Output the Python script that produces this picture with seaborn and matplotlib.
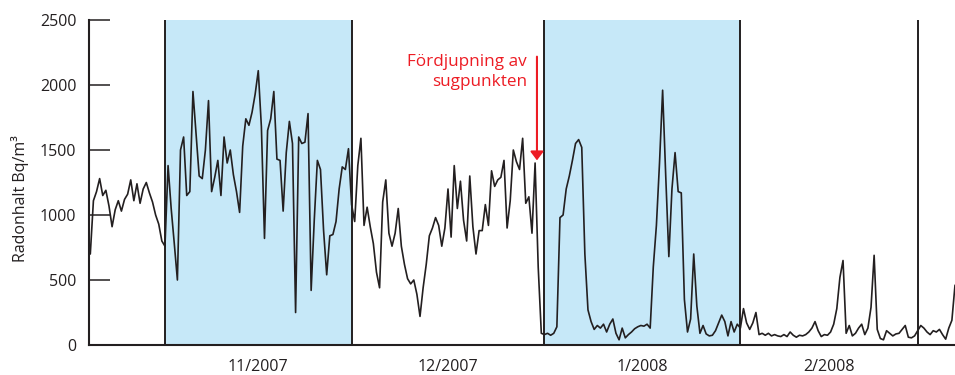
import numpy as np
import pandas as pd
import matplotlib
matplotlib.use("Agg")
import matplotlib.pyplot as plt
import seaborn as sns

# Radon readings (Bq/m3), one value every half day, grouped by month.
# Day 0 = 1 November 2007.
oct_vals = [700, 1110, 1180, 1280, 1150, 1190, 1070, 910, 1040, 1110, 1030, 1120,
            1160, 1270, 1110, 1240, 1090, 1200, 1250, 1170, 1100, 1000, 930, 800]
nov_vals = [760, 1380, 1050, 780, 500, 1500, 1600, 1150, 1180, 1950, 1630, 1300,
            1280, 1500, 1880, 1180, 1290, 1420, 1150, 1600, 1400, 1500, 1310, 1180,
            1020, 1530, 1740, 1690, 1790, 1930, 2110, 1680, 820, 1650, 1740, 1950,
            1430, 1420, 1030, 1480, 1720, 1550, 250, 1600, 1550, 1560, 1780, 420,
            960, 1420, 1350, 880, 540, 840, 850, 950, 1200, 1370, 1350, 1510]
dec_vals = [1080, 950, 1380, 1590, 920, 1060, 910, 780, 560, 440, 1100, 1270,
            860, 760, 860, 1050, 760, 620, 510, 470, 500, 390, 220, 440,
            620, 840, 900, 980, 920, 760, 900, 1200, 830, 1380, 1050, 1260,
            960, 800, 1300, 910, 700, 880, 880, 1080, 920, 1340, 1220, 1270,
            1290, 1420, 900, 1110, 1500, 1410, 1350, 1590, 1090, 1140, 860, 1400,
            600, 90]
jan_vals = [80, 90, 75, 90, 140, 980, 1000, 1200, 1300, 1420, 1550, 1580,
            1520, 700, 270, 180, 120, 150, 130, 160, 100, 160, 200, 90,
            40, 130, 55, 80, 100, 125, 140, 150, 145, 160, 130, 600,
            920, 1400, 1960, 1300, 680, 1200, 1480, 1180, 1170, 350, 100, 200,
            700, 300, 90, 150, 85, 70, 75, 110, 170, 230, 180, 70,
            180, 100, 160, 130]
feb_vals = [280, 170, 120, 170, 250, 80, 90, 75, 90, 70, 80, 70,
            65, 80, 65, 100, 75, 60, 75, 70, 80, 100, 130, 180,
            110, 65, 80, 75, 100, 160, 280, 520, 650, 90, 150, 70,
            90, 130, 160, 80, 130, 290, 690, 120, 50, 40, 110, 90,
            70, 85, 90, 120, 150, 60, 55, 70]
mar_vals = [110, 150, 130, 100, 80, 110, 100, 120, 80, 45, 130, 190, 460]

month_series = [oct_vals, nov_vals, dec_vals, jan_vals, feb_vals, mar_vals]
month_starts = [-12.0, 0.0, 30.0, 61.0, 93.0, 121.0]

period_edges = [0.0, 30.0, 61.0, 92.5, 121.0]
shaded_periods = [(0.0, 30.0), (61.0, 92.5)]
month_labels = ["11/2007", "12/2007", "1/2008", "2/2008"]
label_days = [15.0, 45.5, 76.7, 106.8]
y_ticks = [0, 500, 1000, 1500, 2000, 2500]

frames = []
for start, vals in zip(month_starts, month_series):
    days = start + 0.5 * np.arange(len(vals))
    frames.append(pd.DataFrame({"day": days, "radon": vals}))
df = pd.concat(frames, ignore_index=True)

sns.set_style("white")
plt.rcParams["font.family"] = ["Open Sans", "DejaVu Sans"]

ink = "#231f20"
red = "#ed1c24"

fig = plt.figure(figsize=(9.55, 3.75), dpi=100)
ax = fig.add_axes([89 / 955, 30 / 375, 866 / 955, 325 / 375])

for a, b in shaded_periods:
    ax.axvspan(a, b, color="#c6e8f8", lw=0, zorder=0)
ax.vlines(period_edges, 0, 2500, color=ink, lw=1.4, zorder=2)

sns.lineplot(data=df, x="day", y="radon", ax=ax, color=ink, lw=1.2,
             estimator=None, zorder=3)

ax.set_xlim(-12.21, 127.0)
ax.set_ylim(0, 2500)

for side in ["top", "right"]:
    ax.spines[side].set_visible(False)
for side in ["left", "bottom"]:
    ax.spines[side].set_color(ink)
    ax.spines[side].set_linewidth(1.5)
    ax.spines[side].set_zorder(4)

ax.set_yticks(y_ticks)
ax.tick_params(axis="y", direction="in", length=15, width=1.1, pad=9,
               labelsize=11.5, colors=ink, left=True)
ax.set_xticks(label_days, month_labels)
ax.tick_params(axis="x", length=0, pad=10, labelsize=11.5, colors=ink)

ax.set_xlabel("")
ax.set_ylabel("Radonhalt Bq/m³", fontsize=11.5, color=ink)
ax.yaxis.set_label_coords(-0.069, 0.452)

ax.annotate("", xy=(59.8, 1420), xytext=(59.8, 2218),
            arrowprops=dict(arrowstyle="-|>,head_length=0.4,head_width=0.3",
                            color=red, lw=1.5, mutation_scale=13,
                            shrinkA=0, shrinkB=0), zorder=5)
ax.text(58.2, 2100, "Fördjupning av\nsugpunkten", ha="right", va="center",
        multialignment="right", color=red, fontsize=12.3, linespacing=1.4)

fig.savefig("out.png", dpi=100)
